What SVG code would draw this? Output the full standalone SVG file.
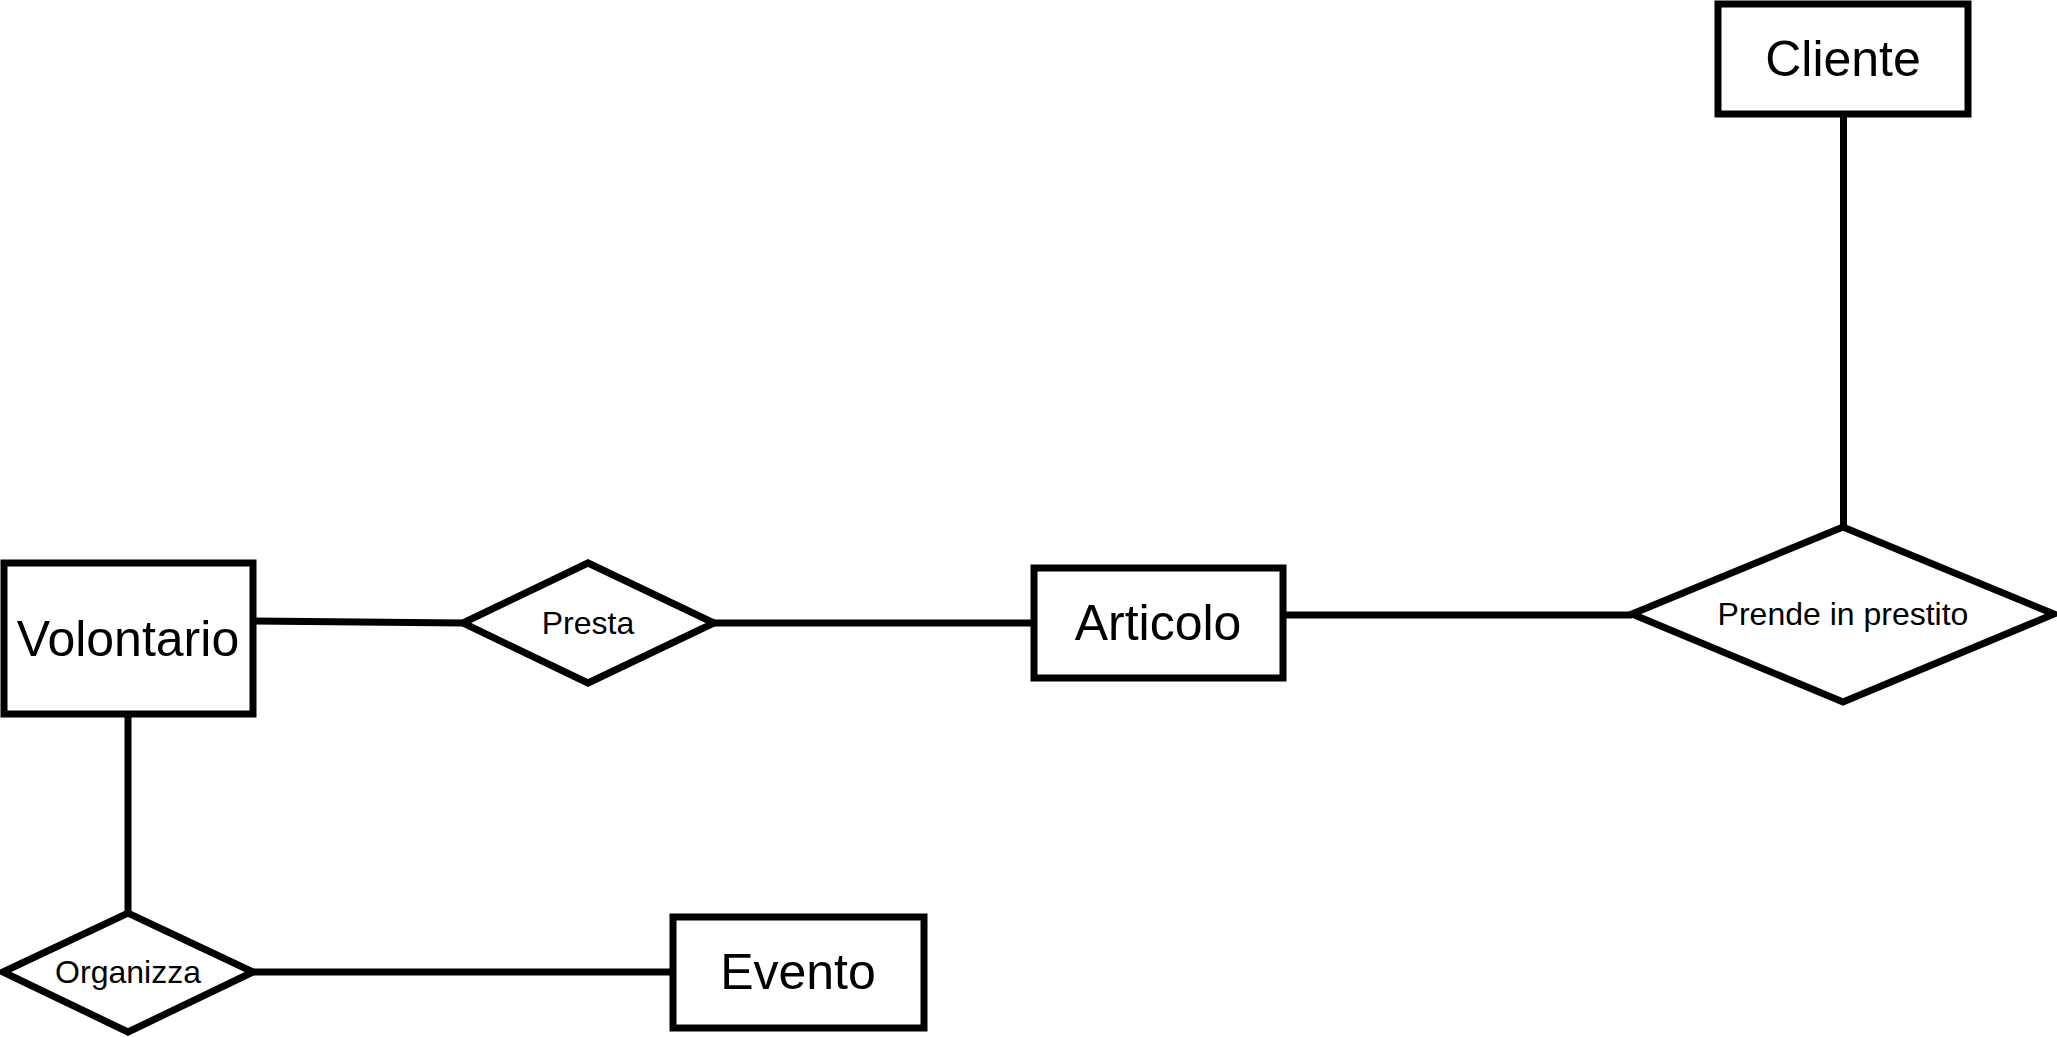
<svg xmlns="http://www.w3.org/2000/svg" width="2057" height="1037" viewBox="0 0 2057 1037">
<style>
.ent{fill:#fff;stroke:#000;stroke-width:7}
.rel{fill:#fff;stroke:#000;stroke-width:7;stroke-linejoin:miter}
.edge{fill:none;stroke:#000;stroke-width:7}
.big{font-family:"Liberation Sans",Arial,sans-serif;font-size:50px;fill:#000;text-anchor:middle;dominant-baseline:central}
.small{font-family:"Liberation Sans",Arial,sans-serif;font-size:32px;fill:#000;text-anchor:middle;dominant-baseline:central}
</style>
<rect width="2057" height="1037" fill="#fff"/>
<g id="connectors">
<line class="edge" x1="253" y1="621" x2="463" y2="623"/>
<line class="edge" x1="714" y1="623" x2="1034" y2="623"/>
<line class="edge" x1="1283" y1="615" x2="1632" y2="615"/>
<line class="edge" x1="1843.5" y1="114" x2="1843.5" y2="527"/>
<line class="edge" x1="128" y1="714" x2="128" y2="913"/>
<line class="edge" x1="253" y1="972" x2="673" y2="972"/>
</g>
<g id="cliente">
<rect class="ent" x="1718" y="4" width="250" height="110"/>
<text class="big" x="1843" y="59">Cliente</text>
</g>
<g id="volontario">
<rect class="ent" x="4" y="563" width="249" height="151"/>
<text class="big" x="128" y="639">Volontario</text>
</g>
<g id="presta">
<polygon class="rel" points="463,623 588,563 714,623 588,683"/>
<text class="small" x="588" y="623">Presta</text>
</g>
<g id="articolo">
<rect class="ent" x="1034" y="568" width="249" height="110"/>
<text class="big" x="1158" y="623">Articolo</text>
</g>
<g id="prende">
<polygon class="rel" points="1632,614 1843,527 2054,614 1843,702"/>
<text class="small" x="1843" y="614">Prende in prestito</text>
</g>
<g id="organizza">
<polygon class="rel" points="3,972 128,913 253,972 128,1032"/>
<text class="small" x="128" y="972">Organizza</text>
</g>
<g id="evento">
<rect class="ent" x="673" y="917" width="251" height="111"/>
<text class="big" x="798" y="972">Evento</text>
</g>
</svg>
